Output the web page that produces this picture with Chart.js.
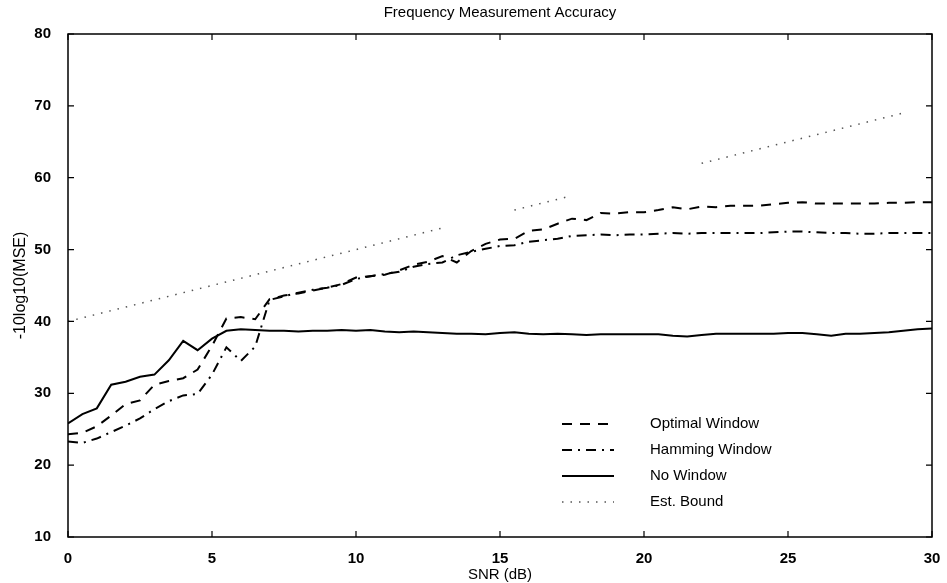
<!DOCTYPE html>
<html lang="en">
<head>
  <meta charset="UTF-8">
  <style>
    body {
      margin: 0;
      background-color: #fff;
    }

    .chart-container {
      width: 947px;
      height: 583px;
      position: relative;
    }
  </style>
</head>
<body>
  <div class="chart-container">
    <canvas id="myChart"></canvas>
  </div>

  <script src="https://cdn.jsdelivr.net/npm/chart.js"></script>
  <script>
    // SNR steps (dB)
    const snr = [
      0, 0.5, 1, 1.5, 2, 2.5, 3, 3.5, 4, 4.5, 5, 5.5, 6, 6.5, 7, 7.5, 8, 8.5, 9, 9.5,
      10, 10.5, 11, 11.5, 12, 12.5, 13, 13.5, 14, 14.5, 15, 15.5, 16, 16.5, 17, 17.5, 18, 18.5, 19, 19.5,
      20, 20.5, 21, 21.5, 22, 22.5, 23, 23.5, 24, 24.5, 25, 25.5, 26, 26.5, 27, 27.5, 28, 28.5, 29, 29.5, 30
    ];

    const optimalWindow = [
      24.3, 24.5, 25.4, 26.9, 28.5, 29.0, 31.2, 31.7, 32.1, 33.3, 36.6, 40.4, 40.6, 40.3, 43.1, 43.6, 43.9, 44.3, 44.7, 45.2,
      46.1, 46.3, 46.5, 47.1, 47.9, 48.3, 49.1, 48.2, 49.8, 50.8, 51.4, 51.5, 52.6, 52.8, 53.6, 54.3, 54.1, 55.1, 55.0, 55.2,
      55.2, 55.5, 55.9, 55.6, 56.0, 55.9, 56.1, 56.1, 56.1, 56.3, 56.5, 56.6, 56.4, 56.4, 56.4, 56.4, 56.4, 56.5, 56.5, 56.6, 56.6
    ];

    const hammingWindow = [
      23.3, 23.1, 23.7, 24.6, 25.5, 26.5, 27.8, 28.9, 29.7, 29.9, 32.6, 36.4, 34.5, 36.5, 43.0, 43.5, 44.0, 44.4, 44.7, 45.1,
      45.9, 46.3, 46.6, 46.9, 47.6, 48.0, 48.2, 49.2, 49.7, 50.1, 50.5, 50.6, 51.1, 51.3, 51.5, 51.9, 52.0, 52.1, 52.0, 52.1,
      52.1, 52.2, 52.3, 52.2, 52.3, 52.3, 52.3, 52.3, 52.3, 52.4, 52.5, 52.5, 52.4, 52.3, 52.3, 52.2, 52.2, 52.3, 52.3, 52.3, 52.3
    ];

    const noWindow = [
      25.8, 27.1, 27.9, 31.2, 31.6, 32.3, 32.6, 34.6, 37.3, 36.0, 37.6, 38.7, 38.9, 38.8, 38.7, 38.7, 38.6, 38.7, 38.7, 38.8,
      38.7, 38.8, 38.6, 38.5, 38.6, 38.5, 38.4, 38.3, 38.3, 38.2, 38.4, 38.5, 38.3, 38.2, 38.3, 38.2, 38.1, 38.2, 38.2, 38.2,
      38.2, 38.2, 38.0, 37.9, 38.1, 38.3, 38.3, 38.3, 38.3, 38.3, 38.4, 38.4, 38.2, 38.0, 38.3, 38.3, 38.4, 38.5, 38.7, 38.9, 39.0
    ];

    // faint dotted bound, dots fade out in a couple of stretches
    const estBound = [
      40, 40.5, 41, 41.5, 42, 42.5, 43, 43.5, 44, 44.5, 45, 45.5, 46, 46.5, 47, 47.5, 48, 48.5, 49, 49.5,
      50, 50.5, 51, 51.5, 52, 52.5, 53, null, null, null, null, 55.5, 56, 56.5, 57, 57.5, null, null, null, null,
      null, null, null, null, 62, 62.5, 63, 63.5, 64, 64.5, 65, 65.5, 66, 66.5, 67, 67.5, 68, 68.5, 69, null, null
    ];

    const xTicks = [0, 5, 10, 15, 20, 25, 30];
    const yTicks = [10, 20, 30, 40, 50, 60, 70, 80];

    const seriesNames = ['Optimal Window', 'Hamming Window', 'No Window', 'Est. Bound'];

    const toPoints = arr => arr.map((v, i) => ({ x: snr[i], y: v }));

    const FONT = "'Liberation Sans', Arial, sans-serif";
    const NARROW = "'Liberation Sans Narrow', 'Liberation Sans', Arial, sans-serif";

    // frame, inward tick marks, title, axis titles and the legend box
    const decorations = {
      id: 'decorations',
      afterDraw(chart) {
        const ctx = chart.ctx;
        const area = chart.chartArea;
        const xs = chart.scales.x;
        const ys = chart.scales.y;
        ctx.save();
        ctx.strokeStyle = '#000';
        ctx.lineWidth = 1.5;
        ctx.setLineDash([]);
        ctx.strokeRect(area.left, area.top, area.right - area.left, area.bottom - area.top);

        ctx.lineWidth = 1.2;
        const tl = 6;
        xTicks.forEach(t => {
          const px = xs.getPixelForValue(t);
          ctx.beginPath();
          ctx.moveTo(px, area.bottom); ctx.lineTo(px, area.bottom - tl);
          ctx.moveTo(px, area.top); ctx.lineTo(px, area.top + tl);
          ctx.stroke();
        });
        yTicks.forEach(t => {
          const py = ys.getPixelForValue(t);
          ctx.beginPath();
          ctx.moveTo(area.left, py); ctx.lineTo(area.left + tl, py);
          ctx.moveTo(area.right, py); ctx.lineTo(area.right - tl, py);
          ctx.stroke();
        });

        ctx.fillStyle = '#000';
        ctx.textAlign = 'center';
        ctx.textBaseline = 'middle';
        ctx.font = '15px ' + FONT;
        ctx.fillText('Frequency Measurement Accuracy', (area.left + area.right) / 2, 13);
        ctx.font = '15px ' + FONT;
        ctx.fillText('SNR (dB)', (area.left + area.right) / 2, 575);

        ctx.save();
        ctx.translate(21, (area.top + area.bottom) / 2);
        ctx.rotate(-Math.PI / 2);
        ctx.font = '16px ' + NARROW;
        ctx.fillText('-10log10(MSE)', 0, 0);
        ctx.restore();

        // legend
        const rows = [424, 450, 476, 502];
        ctx.font = '15px ' + FONT;
        ctx.textAlign = 'left';
        chart.data.datasets.forEach((ds, i) => {
          const y = rows[i];
          ctx.strokeStyle = ds.borderColor;
          ctx.lineWidth = ds.borderWidth;
          ctx.setLineDash(ds.borderDash || []);
          ctx.beginPath();
          ctx.moveTo(562, y);
          ctx.lineTo(614, y);
          ctx.stroke();
          ctx.setLineDash([]);
          ctx.fillStyle = '#000';
          ctx.fillText(ds.label, 650, y);
        });
        ctx.restore();
      }
    };

    const ctx = document.getElementById('myChart').getContext('2d');
    const myChart = new Chart(ctx, {
      type: 'line',
      data: {
        datasets: [
          {
            label: seriesNames[0],
            data: toPoints(optimalWindow),
            borderColor: '#000',
            borderWidth: 2,
            borderDash: [10, 8]
          },
          {
            label: seriesNames[1],
            data: toPoints(hammingWindow),
            borderColor: '#000',
            borderWidth: 2,
            borderDash: [10, 6, 2, 6]
          },
          {
            label: seriesNames[2],
            data: toPoints(noWindow),
            borderColor: '#000',
            borderWidth: 2
          },
          {
            label: seriesNames[3],
            data: toPoints(estBound),
            borderColor: '#555',
            borderWidth: 1.5,
            borderDash: [1.5, 7],
            spanGaps: false
          }
        ]
      },
      options: {
        responsive: true,
        maintainAspectRatio: false,
        animation: false,
        elements: {
          point: { radius: 0 },
          line: { tension: 0, fill: false }
        },
        layout: {
          padding: { top: 34, right: 15, bottom: 0, left: 0 }
        },
        scales: {
          x: {
            type: 'linear',
            min: 0,
            max: 30,
            afterFit: scale => { scale.height = 46; },
            afterBuildTicks: scale => { scale.ticks = xTicks.map(v => ({ value: v })); },
            grid: { display: false },
            border: { display: false },
            ticks: {
              color: '#000',
              padding: 5,
              maxRotation: 0,
              font: { size: 15, family: FONT, weight: 'bold' }
            }
          },
          y: {
            min: 10,
            max: 80,
            afterFit: scale => { scale.width = 68; },
            afterBuildTicks: scale => { scale.ticks = yTicks.map(v => ({ value: v })); },
            grid: { display: false },
            border: { display: false },
            ticks: {
              color: '#000',
              padding: 9,
              font: { size: 15, family: FONT, weight: 'bold' }
            }
          }
        },
        plugins: {
          legend: { display: false },
          tooltip: { enabled: false }
        }
      },
      plugins: [decorations]
    });
  </script>
</body>
</html>
